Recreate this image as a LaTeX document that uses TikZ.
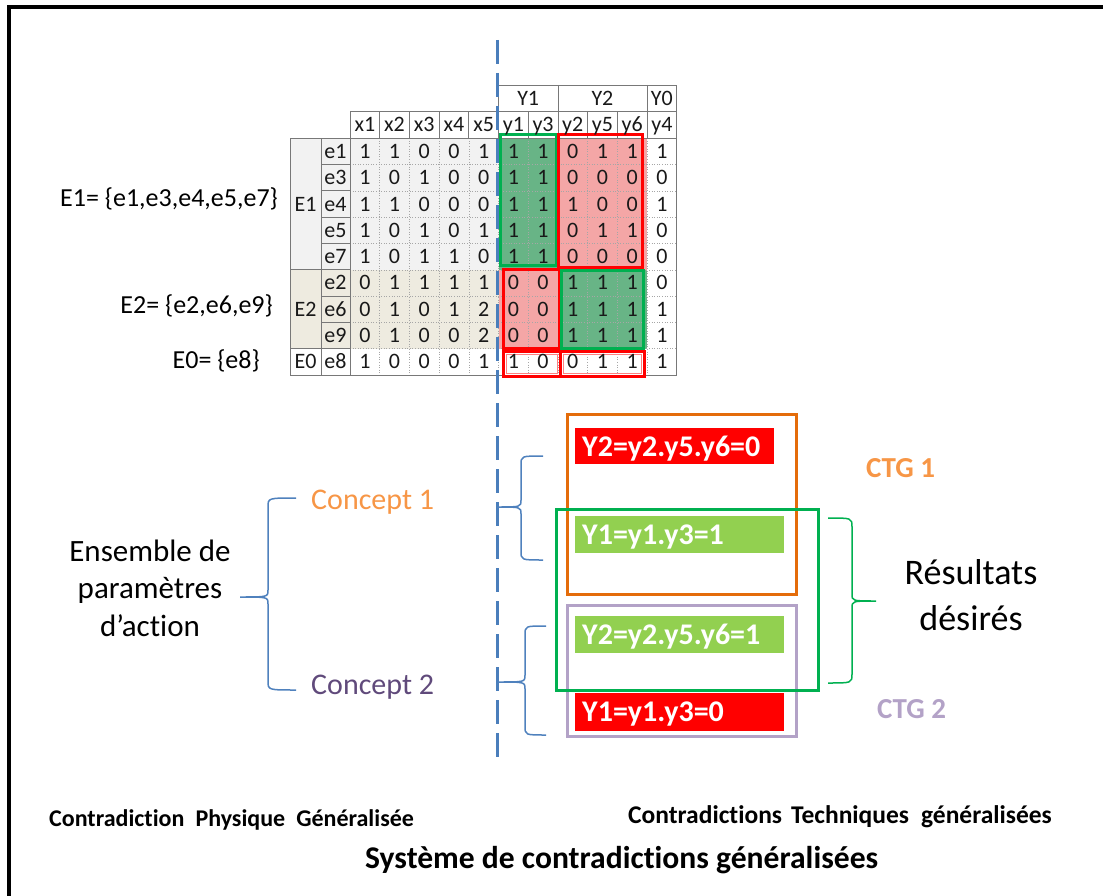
\documentclass[tikz,border=0pt]{standalone}
\usepackage{fontspec}
\setmainfont{Carlito}[Ligatures=NoCommon]
\usetikzlibrary{positioning, calc}
\definecolor{dashblue}{RGB}{74, 126, 187}
\definecolor{braceblue}{RGB}{79, 129, 189}
\definecolor{ctgorange}{RGB}{228, 108, 10}
\definecolor{ctgorangelt}{RGB}{247, 150, 70}
\definecolor{ctgpurple}{RGB}{179, 162, 199}
\definecolor{conceptpurple}{RGB}{96, 74, 123}
\definecolor{resgreen}{RGB}{0, 176, 80}
\definecolor{tagred}{RGB}{255, 0, 0}
\definecolor{taggreen}{RGB}{146, 208, 80}
\definecolor{cellgray}{RGB}{242, 242, 242}
\definecolor{cellbeige}{RGB}{238, 235, 224}
\definecolor{cellgreen}{RGB}{104, 180, 134}
\definecolor{cellred}{RGB}{244, 166, 166}
\definecolor{gridline}{RGB}{120, 120, 120}

\begin{document}
\begin{tikzpicture}[
    x=1pt, y=-1pt,
    % cellules du tableau
    cell/.style={inner sep=0pt, text=black!90, text height=14pt, text depth=0pt, font=\fontsize{22}{22}\selectfont},
    gridsolid/.style={draw=gridline, line width=0.8pt},
    griddot/.style={draw=black!35, line width=0.6pt, dotted},
    hilite/.style={line width=3pt},
    % etiquettes colorees et cadres
    tagbox/.style={anchor=north west, inner xsep=7pt, inner ysep=0pt, text height=20pt, text depth=0pt, text=white, align=left, font=\fontsize{30}{30}\selectfont\bfseries},
    ctgframe/.style={line width=3pt},
    curly/.style={line width=1.5pt},
    setlabel/.style={anchor=base east, inner sep=0pt, font=\fontsize{26}{26}\selectfont},
    plain/.style={anchor=base west, inner sep=0pt},
]

% taille de la page et cadre noir
\useasboundingbox (0,0) rectangle (1103,896);
\clip (0,0) rectangle (1103,896);
\draw[line width=3.5pt] (9,7) rectangle (1130,920);

% geometrie du tableau
\def\tx{350}    % bord gauche de x1
\def\cw{29.7}   % largeur de colonne
\def\ty{138.3}  % haut de la ligne e1
\def\rh{26.3}   % hauteur de ligne
\def\hya{85}    % haut de la ligne Y1/Y2/Y0
\def\hyb{111.7} % haut de la ligne x1..y4

% ==========================================
% 1. Fonds des cellules
% ==========================================
\fill[cellgray]  (290,\ty) rectangle ({\tx+5*\cw},{\ty+5*\rh});
\fill[cellbeige] (290,{\ty+5*\rh}) rectangle ({\tx+5*\cw},{\ty+8*\rh});
\fill[cellgreen] ({\tx+5*\cw},\ty) rectangle ({\tx+7*\cw},{\ty+5*\rh});
\fill[cellred]   ({\tx+7*\cw},\ty) rectangle ({\tx+10*\cw},{\ty+5*\rh});
\fill[cellred]   ({\tx+5*\cw},{\ty+5*\rh}) rectangle ({\tx+7*\cw},{\ty+8*\rh});
\fill[cellgreen] ({\tx+7*\cw},{\ty+5*\rh}) rectangle ({\tx+10*\cw},{\ty+8*\rh});

% ==========================================
% 2. Grille (pointillee dedans, pleine autour)
% ==========================================
\foreach \i in {1,...,10}
    \draw[griddot] ({\tx+\i*\cw},\ty) -- ({\tx+\i*\cw},{\ty+9*\rh});
\foreach \j in {1,...,8}
    \draw[griddot] (\tx,{\ty+\j*\rh}) -- ({\tx+11*\cw},{\ty+\j*\rh});

\draw[gridsolid] (\tx,\hyb) rectangle ({\tx+11*\cw},\ty);
\foreach \i in {1,...,10}
    \draw[gridsolid] ({\tx+\i*\cw},\hyb) -- ({\tx+\i*\cw},\ty);
\draw[gridsolid] ({\tx+5*\cw},\hya) rectangle ({\tx+11*\cw},\hyb);
\draw[gridsolid] ({\tx+7*\cw},\hya) -- ({\tx+7*\cw},\hyb)
                 ({\tx+10*\cw},\hya) -- ({\tx+10*\cw},\hyb);
\draw[gridsolid] (290,\ty) rectangle ({\tx+11*\cw},{\ty+9*\rh});
\draw[gridsolid] (321,\ty) -- (321,{\ty+9*\rh}) (\tx,\ty) -- (\tx,{\ty+9*\rh});
\foreach \j in {1,...,8}
    \draw[gridsolid] (321,{\ty+\j*\rh}) -- (\tx,{\ty+\j*\rh});
\draw[gridsolid] (290,{\ty+5*\rh}) -- (321,{\ty+5*\rh})
                 (290,{\ty+8*\rh}) -- (321,{\ty+8*\rh});

% ==========================================
% 3. Cadres rouges et verts du tableau
% ==========================================
\draw[hilite, resgreen] (500,135) rectangle (556.7,265);
\draw[hilite, tagred]   (558.3,134.5) rectangle (642,267);
\draw[hilite, tagred]   (503,269) rectangle (559,348);
\draw[hilite, resgreen] (561.7,270.5) rectangle (643,348);
\draw[hilite, tagred]   (503,351.5) rectangle (560,376) (560,351.5) rectangle (644,376);
\draw[tagred!50, line width=0.8pt] (506,354.5) rectangle (557,373) (563,354.5) rectangle (641,373);

% ==========================================
% 4. Textes du tableau
% ==========================================
\node[cell] (hY1) at ({\tx+6*\cw},{(\hya+\hyb)/2}) {Y1};
\node[cell] (hY2) at ({\tx+8.5*\cw},{(\hya+\hyb)/2}) {Y2};
\node[cell] (hY0) at ({\tx+10.5*\cw},{(\hya+\hyb)/2}) {Y0};
\foreach \h [count=\i from 0] in {x1,x2,x3,x4,x5,y1,y3,y2,y5,y6,y4}
    \node[cell] (h\h) at ({\tx+(\i+0.5)*\cw},{(\hyb+\ty)/2}) {\h};

\node[cell] (E1) at (305.5,{\ty+2.5*\rh}) {E1};
\node[cell] (E2) at (305.5,{\ty+6.5*\rh}) {E2};
\node[cell] (E0) at (305.5,{\ty+8.5*\rh}) {E0};
\foreach \r [count=\k from 0] in {e1,e3,e4,e5,e7,e2,e6,e9,e8}
    \node[cell] (\r) at (335.5,{\ty+(\k+0.5)*\rh}) {\r};

\foreach \row [count=\k from 0] in {
    {1,1,0,0,1,1,1,0,1,1,1},
    {1,0,1,0,0,1,1,0,0,0,0},
    {1,1,0,0,0,1,1,1,0,0,1},
    {1,0,1,0,1,1,1,0,1,1,0},
    {1,0,1,1,0,1,1,0,0,0,0},
    {0,1,1,1,1,0,0,1,1,1,0},
    {0,1,0,1,2,0,0,1,1,1,1},
    {0,1,0,0,2,0,0,1,1,1,1},
    {1,0,0,0,1,1,0,0,1,1,1}}
    \foreach \v [count=\i from 0] in \row
        \node[cell] (v\k-\i) at ({\tx+(\i+0.5)*\cw},{\ty+(\k+0.5)*\rh}) {\v};

% ensembles a gauche du tableau
\node[setlabel] (setE1) at (278,206.7) {E1= \{e1,e3,e4,e5,e7\}};
\node[setlabel] (setE2) at (273,313.3) {E2= \{e2,e6,e9\}};
\node[setlabel] (setE0) at (260,368.3) {E0= \{e8\}};

% ==========================================
% 5. Separation verticale en tirets
% ==========================================
\coordinate (dtop) at (497.5,40);
\coordinate (dbot) at (497.5,760);
\draw[dashblue, line width=2.8pt, dash pattern=on 24pt off 9pt] (dtop) -- (dbot);

% ==========================================
% 6. Partie gauche : parametres et concepts
% ==========================================
\node[align=center, inner sep=0pt, font=\fontsize{31}{37.5}\selectfont] (params) at (150,588) {Ensemble de\\paramètres\\d’action};
\node[plain, text=ctgorangelt, font=\fontsize{30}{30}\selectfont] (concept1) at (311,509.3) {Concept 1};
\node[plain, text=conceptpurple, font=\fontsize{30}{30}\selectfont] (concept2) at (311,694.3) {Concept 2};

% ==========================================
% 7. Partie droite : CTG et resultats
% ==========================================
\draw[ctgframe, ctgorange] (567.7,414) rectangle (796,594);
\draw[ctgframe, ctgpurple] (567.7,605) rectangle (796,736.7);

\node[tagbox, fill=tagred,   text width=185pt, minimum height=36pt] (tagA) at (575,428)   {Y2=y2.y5.y6=0};
\node[tagbox, fill=taggreen, text width=195pt, minimum height=36.7pt] (tagB) at (575,516) {Y1=y1.y3=1};
\node[tagbox, fill=taggreen, text width=195pt, minimum height=36.7pt] (tagC) at (575,616) {Y2=y2.y5.y6=1};
\node[tagbox, fill=tagred,   text width=195pt, minimum height=38pt] (tagD) at (575,692.7) {Y1=y1.y3=0};

\draw[ctgframe, resgreen] (556.7,509.3) rectangle (818.3,690.7);

\node[plain, text=ctgorangelt, font=\fontsize{29}{29}\selectfont\bfseries] (ctg1) at (866,477.3) {CTG 1};
\node[plain, text=ctgpurple, font=\fontsize{29}{29}\selectfont\bfseries] (ctg2) at (877,718.3) {CTG 2};
\node[align=center, inner sep=0pt, font=\fontsize{36}{46.7}\selectfont] (results) at (971,595) {Résultats\\désirés};

% accolades (haut, milieu, bas)
\foreach \xh/\xv/\xt/\yt/\ym/\yb/\col in {
    296/268/240/498/597/690/braceblue,
    543/521/497/456/507/560/braceblue,
    546/525/498/626/682/735/braceblue,
    828/852/876/518/601/683/resgreen}
    \draw[curly, \col] (\xh,\yt) .. controls (\xv,\yt) .. (\xv,\yt+9) -- (\xv,\ym-7)
        .. controls (\xv,\ym) .. (\xt,\ym) .. controls (\xv,\ym) .. (\xv,\ym+7)
        -- (\xv,\yb-9) .. controls (\xv,\yb) .. (\xh,\yb);

% ==========================================
% 8. Legendes du bas
% ==========================================
\node[plain, font=\fontsize{24}{24}\selectfont\bfseries] (cpg) at (49,826.7) {Contradiction\hspace{11pt}Physique\hspace{11pt}Généralisée};
\node[plain, font=\fontsize{25.5}{25.5}\selectfont\bfseries] (ctgen) at (628,823.3) {Contradictions\hspace{9pt}Techniques\hspace{12pt}généralisées};
\node[plain, font=\fontsize{31.6}{31.6}\selectfont\bfseries] (system) at (365,868.3) {Système de contradictions généralisées};

\end{tikzpicture}
\end{document}
